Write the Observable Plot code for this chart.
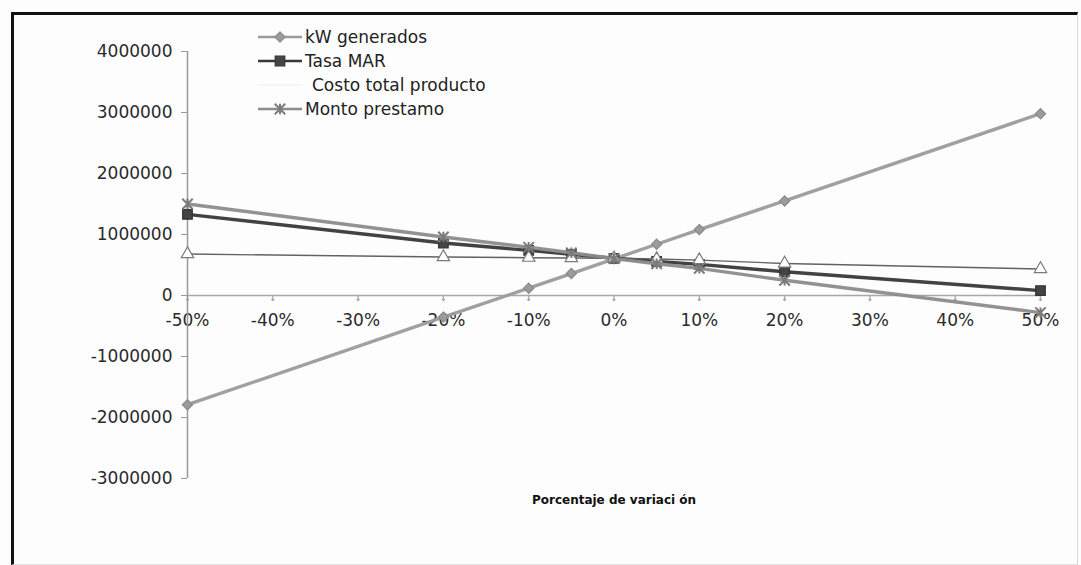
<!DOCTYPE html>
<html>
<head>
<meta charset="utf-8">
<script src="https://cdn.jsdelivr.net/npm/d3@7"></script>
<script src="https://cdn.jsdelivr.net/npm/@observablehq/plot@0.6"></script>
<style>
  html, body { margin: 0; padding: 0; background: #fdfdfd; }
  #chart { position: relative; width: 1081px; height: 565px; overflow: hidden; font-family: "DejaVu Sans", Verdana, sans-serif; }
  #border { position: absolute; left: 11px; top: 12px; width: 1063px; height: 549px;
            border-left: 3px solid #111; border-top: 3px solid #111;
            border-right: 1px solid #d8d8d8; border-bottom: 1px solid #e2e2e2; pointer-events: none; }
  #legend { position: absolute; left: 258px; top: 25px; font-size: 17px; color: #222; }
  .item { display: flex; align-items: center; height: 24px; }
  .item svg { width: 44px; height: 20px; margin-right: 3px; }
  #plot { position: absolute; left: 0; top: 0; }
</style>
</head>
<body>
<div id="chart">
  <div id="plot"></div>
  <div id="border"></div>
  <div id="legend"></div>
</div>
<script>
// Sensitivity analysis: percentage variation of each input
const variacion = [-0.5, -0.2, -0.1, -0.05, 0, 0.05, 0.1, 0.2, 0.5];

// Resulting value for each varied input
const kwGenerados   = [-1790000, -355000, 120000, 360000, 600000, 840000, 1080000, 1550000, 2980000];
const tasaMAR       = [1330000, 860000, 740000, 675000, 610000, 560000, 510000, 390000, 80000];
const costoTotal    = [680000, 630000, 620000, 615000, 610000, 598000, 580000, 525000, 435000];
const montoPrestamo = [1500000, 960000, 790000, 700000, 605000, 520000, 445000, 250000, -280000];

const seriesNames = ["kW generados", "Tasa MAR", "Costo total producto", "Monto prestamo"];

// Axis ticks
const xTicks = [-0.5, -0.4, -0.3, -0.2, -0.1, 0, 0.1, 0.2, 0.3, 0.4, 0.5];
const yTicks = [-3000000, -2000000, -1000000, 0, 1000000, 2000000, 3000000, 4000000];
const xTitle = "Porcentaje de variaci ón";

// Asterisk-like marker: an X with a vertical bar
const star = {
  draw(context, size) {
    const r = Math.sqrt(size / Math.PI);
    context.moveTo(-r, -r); context.lineTo(r, r);
    context.moveTo(-r, r); context.lineTo(r, -r);
    context.moveTo(0, -r); context.lineTo(0, r);
  }
};

const styles = [
  {name: seriesNames[0], values: kwGenerados,   stroke: "#9b9b9b", width: 3.4, symbol: "diamond2", fill: "#9b9b9b", mstroke: "#8a8a8a", r: 4.6},
  {name: seriesNames[1], values: tasaMAR,       stroke: "#383838", width: 3.4, symbol: "square",   fill: "#444",    mstroke: "#333",    r: 5.4},
  {name: seriesNames[2], values: costoTotal,    stroke: "#5a5a5a", width: 1.4, symbol: "triangle", fill: "#fff",    mstroke: "#7a7a7a", r: 4.6},
  {name: seriesNames[3], values: montoPrestamo, stroke: "#8c8c8c", width: 3.4, symbol: star,       fill: "none",    mstroke: "#7a7a7a", r: 5.2}
];

const rows = styles.map(s => variacion.map((v, i) => ({serie: s.name, x: v, y: s.values[i]})));

const marks = [
  // x tick labels sit just below the zero line
  Plot.text(xTicks, {x: d => d, y: 0, dy: 25, text: d => `${Math.round(d * 100)}%`,
    fontSize: 17, fill: "#2a2a2a"}),
  Plot.ruleY([0], {stroke: "#a8a8a8", strokeWidth: 1.5}),
  Plot.vector(xTicks, {x: d => d, y: 0, length: 5, rotate: 180, anchor: "start", stroke: "#a8a8a8", strokeWidth: 1.3}),
  Plot.ruleX([-0.5], {stroke: "#9a9a9a", strokeWidth: 1.5}),
  Plot.axisY({ticks: yTicks, tickSize: 6, tickPadding: 9, fontSize: 17, tickFormat: d => String(d),
    label: null, stroke: "#9a9a9a", fill: "#2a2a2a"}),
  Plot.text([xTitle], {frameAnchor: "bottom", dy: 25, fontSize: 12, fontWeight: "bold", fill: "#111"})
];

styles.forEach((s, k) => {
  marks.push(Plot.line(rows[k], {x: "x", y: "y", stroke: s.stroke, strokeWidth: s.width, strokeOpacity: 0.95}));
  marks.push(Plot.dot(rows[k], {x: "x", y: "y", symbol: s.symbol, r: s.r, fill: s.fill,
    stroke: s.mstroke, strokeWidth: s.symbol === star ? 2 : 1.2}));
});

const plot = Plot.plot({
  width: 1081,
  height: 565,
  marginTop: 51,
  marginBottom: 87,
  marginLeft: 187,
  marginRight: 41,
  style: {background: "transparent", fontFamily: "DejaVu Sans, Verdana, sans-serif", overflow: "visible"},
  x: {domain: [-0.5, 0.5], axis: null},
  y: {domain: [-3000000, 4000000], axis: null},
  marks
});
document.getElementById("plot").append(plot);

// Legend
const legend = d3.select("#legend");
const legendColors = ["#9b9b9b", "#383838", "#f2f2f2", "#8c8c8c"];
styles.forEach((s, k) => {
  const item = legend.append("div").attr("class", "item");
  const svg = item.append("svg");
  svg.append("line").attr("x1", 0).attr("x2", 44).attr("y1", 10).attr("y2", 10)
    .attr("stroke", legendColors[k]).attr("stroke-width", k === 2 ? 1.4 : 2.6);
  if (k !== 2) {
    const sym = s.symbol === star ? star
      : s.symbol === "diamond2" ? d3.symbolDiamond2 : d3.symbolSquare;
    svg.append("path").attr("transform", "translate(22,10)")
      .attr("d", d3.symbol(sym, Math.PI * s.r * s.r)())
      .attr("fill", s.fill).attr("stroke", s.mstroke).attr("stroke-width", s.symbol === star ? 2 : 1.2);
  }
  item.append("span").text(s.name).style("margin-left", k === 2 ? "7px" : "0px");
});
</script>
</body>
</html>
